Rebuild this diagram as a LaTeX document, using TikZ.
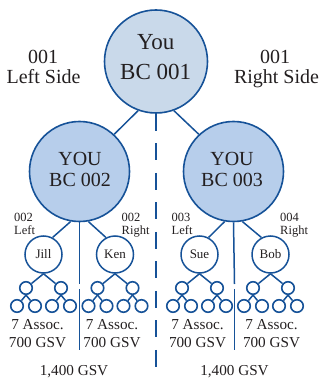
\documentclass[tikz,border=0pt]{standalone}
\usepackage{fontspec}
\setmainfont{Liberation Serif}
\definecolor{edge}{RGB}{22,82,152}
\definecolor{topfill}{RGB}{201,217,234}
\definecolor{kidfill}{RGB}{183,206,235}
\definecolor{ink}{RGB}{35,31,32}
\begin{document}
\begin{tikzpicture}[x=1pt,y=-1pt,
  topc/.style={circle, draw=edge, fill=topfill, line width=1.6pt, minimum size=103pt, inner sep=0pt},
  kidc/.style={circle, draw=edge, fill=kidfill, line width=1.6pt, minimum size=100pt, inner sep=0pt},
  namec/.style={circle, draw=edge, fill=white, line width=1.5pt, minimum size=37pt, inner sep=0pt, text=ink, font=\fontsize{13}{15}\selectfont},
  dotc/.style={circle, draw=edge, fill=white, line width=1.6pt, minimum size=12.5pt, inner sep=0pt},
  link/.style={draw=edge, line width=1.5pt},
  lbl/.style={text=ink, inner sep=0pt, anchor=base},
  bigfont/.style={font=\fontsize{23}{26}\selectfont},
  midfont/.style={font=\fontsize{20}{22}\selectfont},
  sidefont/.style={font=\fontsize{20}{22}\selectfont},
  smallfont/.style={font=\fontsize{12.5}{14}\selectfont},
  sumfont/.style={font=\fontsize{15.2}{17}\selectfont}
]
\useasboundingbox (0,0) rectangle (323,379);

% main circles
\node[topc] (top) at (156,61.5) {};
\node[kidc] (bc2) at (79.5,171.5) {};
\node[kidc] (bc3) at (233.5,171.5) {};

% name circles
\node[namec] (jill) at (43.5,254.5) {Jill};
\node[namec] (ken) at (115,254.5) {Ken};
\node[namec] (sue) at (199.5,254.5) {Sue};
\node[namec] (bob) at (270.5,254.5) {Bob};

% connectors between main circles
\draw[link] (top.250) -- (bc2.47);
\draw[link] (top.290) -- (bc3.133);
\coordinate (dashend) at (156,379);
\draw[link, dash pattern=on 17pt off 12.5pt] (top.south) -- (dashend);

% connectors to name circles
\draw[link] (bc2.260) -- (jill.62);
\draw[link] (bc2.280) -- (ken.118);
\draw[link] (bc3.260) -- (sue.62);
\draw[link] (bc3.280) -- (bob.118);

% vertical dividers
\coordinate (d2a) at (79.5,284);
\coordinate (d2b) at (79.5,289);
\coordinate (d2c) at (79.5,350);
\draw[link] (bc2.south) -- (d2a);
\draw[link] (d2b) -- (d2c);
\coordinate (d3a) at (234.5,284);
\coordinate (d3b) at (234.5,289);
\coordinate (d3c) at (234.5,350);
\draw[link] (bc3.south) -- (d3a);
\draw[link] (d3b) -- (d3c);

% small trees
\foreach \n/\c in {jill/43.5, ken/115, sue/199.5, bob/270.5}{
  \node[dotc] (\n-a) at (\c-17.5,288) {};
  \node[dotc] (\n-b) at (\c+17.5,288) {};
  \node[dotc] (\n-a1) at (\c-26.5,306) {};
  \node[dotc] (\n-a2) at (\c-8.5,306) {};
  \node[dotc] (\n-b1) at (\c+8.5,306) {};
  \node[dotc] (\n-b2) at (\c+26.5,306) {};
  \draw[link] (\n.south) -- (\n-a);
  \draw[link] (\n.south) -- (\n-b);
  \draw[link] (\n-a.south) -- (\n-a1);
  \draw[link] (\n-a.south) -- (\n-a2);
  \draw[link] (\n-b.south) -- (\n-b1);
  \draw[link] (\n-b.south) -- (\n-b2);
}

% texts in big circles
\node[lbl, bigfont] (t1a) at (155.7,50) {You};
\node[lbl, bigfont] (t1b) at (155.7,80) {BC 001};
\node[lbl, midfont] (t2a) at (80,165.5) {YOU};
\node[lbl, midfont] (t2b) at (80,186.5) {BC 002};
\node[lbl, midfont] (t3a) at (232,165.5) {YOU};
\node[lbl, midfont] (t3b) at (232,186.5) {BC 003};

% side labels
\node[lbl, sidefont] (ls1) at (43,63.3) {001};
\node[lbl, sidefont] (ls2) at (43.5,83.3) {Left Side};
\node[lbl, sidefont] (rs1) at (275,63.3) {001};
\node[lbl, sidefont] (rs2) at (276.5,83.3) {Right Side};

% leg labels
\node[lbl, smallfont, anchor=base west] (l2a) at (14,221.5) {002};
\node[lbl, smallfont, anchor=base west] (l2b) at (14,234) {Left};
\node[lbl, smallfont, anchor=base west] (r2a) at (121.5,221.5) {002};
\node[lbl, smallfont, anchor=base west] (r2b) at (121.5,234) {Right};
\node[lbl, smallfont, anchor=base west] (l3a) at (171.5,221.5) {003};
\node[lbl, smallfont, anchor=base west] (l3b) at (171.5,234) {Left};
\node[lbl, smallfont, anchor=base west] (r3a) at (280,221.5) {004};
\node[lbl, smallfont, anchor=base west] (r3b) at (280,234) {Right};

% volume labels
\foreach \k/\x in {1/37.5, 2/112, 3/197.5, 4/271.5}{
  \node[lbl, sumfont] (as\k) at (\x,329) {7 Assoc.};
  \node[lbl, sumfont] (gv\k) at (\x,347.5) {700 GSV};
}
\node[lbl, sumfont] (tot1) at (74,375.5) {1,400 GSV};
\node[lbl, sumfont] (tot2) at (234.5,375.5) {1,400 GSV};
\end{tikzpicture}
\end{document}
